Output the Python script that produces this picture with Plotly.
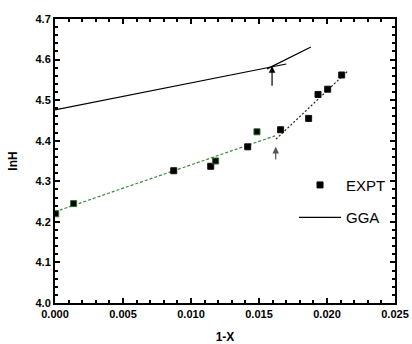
import plotly.graph_objects as go

# Experimental data
expt_x = [0.00005, 0.00137, 0.00873, 0.01145, 0.01181, 0.01417, 0.01485, 0.01659, 0.01865, 0.01934, 0.02005, 0.02108]
expt_y = [4.220, 4.245, 4.326, 4.337, 4.350, 4.385, 4.422, 4.427, 4.455, 4.514, 4.527, 4.562]
expt_edge = ["#2a6e2a", "#2a6e2a", "#111111", "#111111", "#2a6e2a", "#111111", "#2a6e2a", "#111111", "#111111", "#111111", "#111111", "#111111"]

# GGA lines (two segments crossing at the kink)
gga1_x = [0.0, 0.01700]
gga1_y = [4.476, 4.589]
gga2_x = [0.01559, 0.01882]
gga2_y = [4.577, 4.631]

# Fit lines to experimental data
fit1_x = [0.0, 0.01618]
fit1_y = [4.225, 4.412]
fit2_x = [0.01625, 0.02157]
fit2_y = [4.404, 4.573]

# Arrows (x, tip y, tail y)
arrow_x = [0.01596, 0.01623]
arrow_tip = [4.584, 4.385]
arrow_tail = [4.532, 4.350]
arrow_col = ["#000000", "#555555"]

x_ticks = [0.000, 0.005, 0.010, 0.015, 0.020, 0.025]
x_labels = ["0.000", "0.005", "0.010", "0.015", "0.020", "0.025"]
y_ticks = [4.0, 4.1, 4.2, 4.3, 4.4, 4.5, 4.6, 4.7]
y_labels = ["4.0", "4.1", "4.2", "4.3", "4.4", "4.5", "4.6", "4.7"]

FONT = "Liberation Sans, Arial, sans-serif"

fig = go.Figure()

fig.add_trace(go.Scatter(x=fit1_x, y=fit1_y, mode="lines",
                         line=dict(color="#3a8a3a", width=1.2, dash="3px,2px"), showlegend=False))
fig.add_trace(go.Scatter(x=fit2_x, y=fit2_y, mode="lines",
                         line=dict(color="#222222", width=1.2, dash="2px,2px"), showlegend=False))
fig.add_trace(go.Scatter(x=gga2_x, y=gga2_y, mode="lines",
                         line=dict(color="black", width=1.2), showlegend=False))
fig.add_trace(go.Scatter(x=expt_x, y=expt_y, mode="markers", name="EXPT",
                         showlegend=False,
                         marker=dict(symbol="square", size=6, color="black",
                                     line=dict(color=expt_edge, width=1))))
fig.add_trace(go.Scatter(x=[None], y=[None], mode="markers", name="EXPT",
                         legendgroup="a",
                         marker=dict(symbol="square", size=6, color="black",
                                     line=dict(color="black", width=1))))
fig.add_trace(go.Scatter(x=gga1_x, y=gga1_y, mode="lines", name="GGA",
                         legendgroup="b",
                         line=dict(color="black", width=1.2)))

for xa, tip, tail, c in zip(arrow_x, arrow_tip, arrow_tail, arrow_col):
    fig.add_annotation(x=xa, y=tip, ax=xa, ay=tail, xref="x", yref="y",
                       axref="x", ayref="y", text="", showarrow=True,
                       arrowhead=2, arrowsize=1.1, arrowwidth=1.2, arrowcolor=c)

axis_common = dict(showline=True, linecolor="black", linewidth=2, mirror="ticks",
                   ticks="inside", ticklen=5, tickwidth=1.5, tickcolor="black",
                   showgrid=False, zeroline=False, automargin=False,
                   tickfont=dict(family=FONT, size=11, color="black", weight="bold"))

fig.update_xaxes(range=[0, 0.025], tickvals=x_ticks, ticktext=x_labels,
                 minor=dict(ticks="inside", ticklen=3, tickcolor="black", dtick=0.001, showgrid=False),
                 title=dict(text="1-X",
                            font=dict(family=FONT, size=12, color="black", weight="bold")),
                 **axis_common)
fig.update_yaxes(range=[4.0, 4.7], tickvals=y_ticks, ticktext=y_labels,
                 minor=dict(ticks="inside", ticklen=3, tickcolor="black", dtick=0.02, showgrid=False),
                 title=dict(text="lnH",
                            font=dict(family=FONT, size=12, color="black", weight="bold")),
                 **axis_common)

fig.update_layout(
    width=412, height=344,
    margin=dict(l=55, r=17, t=19, b=41),
    plot_bgcolor="white", paper_bgcolor="white",
    legend=dict(x=0.703, y=0.473, xanchor="left", yanchor="top",
                bgcolor="rgba(0,0,0,0)", itemwidth=42, tracegroupgap=10,
                font=dict(family=FONT, size=15, color="black")),
)

fig.write_html("out.html", config={"displayModeBar": False},
               post_script="document.body.style.margin='0';document.body.style.overflow='hidden';")
